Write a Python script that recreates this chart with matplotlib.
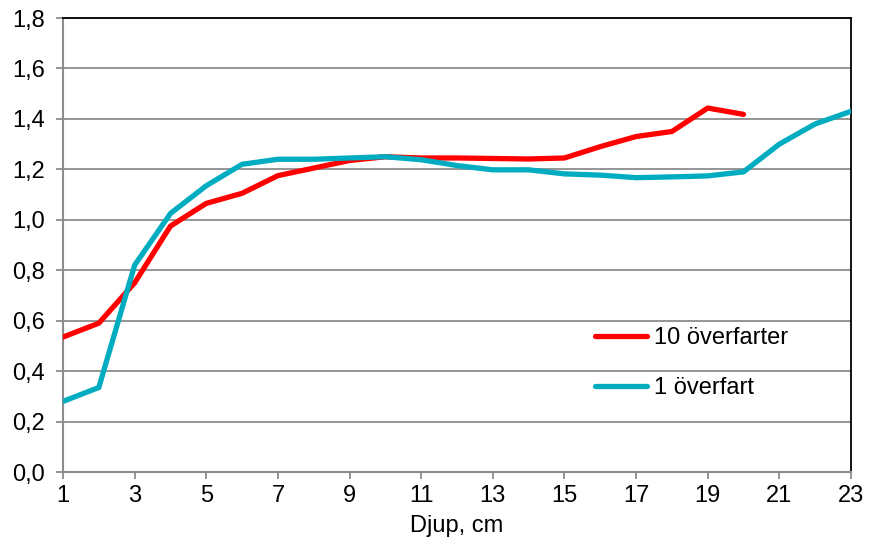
import matplotlib
matplotlib.use('Agg')
import matplotlib.pyplot as plt

# depth (cm) and values for each series
djup_10 = list(range(1, 21))
varde_10 = [0.535, 0.59, 0.75, 0.975, 1.065, 1.105, 1.175, 1.205, 1.235, 1.25,
            1.245, 1.245, 1.243, 1.241, 1.245, 1.29, 1.33, 1.35, 1.443, 1.418]

djup_1 = list(range(1, 24))
varde_1 = [0.28, 0.335, 0.82, 1.025, 1.135, 1.22, 1.24, 1.24, 1.245, 1.25,
           1.238, 1.215, 1.198, 1.198, 1.182, 1.177, 1.167, 1.17, 1.174, 1.19,
           1.30, 1.38, 1.43]

xticks = list(range(1, 24, 2))
yticks = [0.0, 0.2, 0.4, 0.6, 0.8, 1.0, 1.2, 1.4, 1.6, 1.8]

plt.rcParams['font.family'] = ['Liberation Sans', 'DejaVu Sans']
fs = 17

fig = plt.figure(figsize=(8.69, 5.5), dpi=100)
ax = fig.add_axes([63 / 869, 1 - 472 / 550, (851 - 63) / 869, (472 - 18) / 550])

ax.plot(djup_10, varde_10, color='#FF0000', lw=3.8, label='10 överfarter',
        solid_capstyle='round', zorder=3)
ax.plot(djup_1, varde_1, color='#00ACBF', lw=3.8, label='1 överfart',
        solid_capstyle='round', zorder=3)

ax.set_xlim(1, 23)
ax.set_ylim(0, 1.8)
ax.set_xticks(xticks)
ax.set_yticks(yticks)
ax.yaxis.set_major_formatter(plt.FuncFormatter(lambda v, p: ('%.1f' % v).replace('.', ',')))
ax.grid(axis='y', color='#8c8c8c', lw=1.3)
ax.set_axisbelow(True)

for s in ['left', 'bottom']:
    ax.spines[s].set_color('#8c8c8c')
    ax.spines[s].set_linewidth(1.5)
for s in ['top', 'right']:
    ax.spines[s].set_color('black')
    ax.spines[s].set_linewidth(1.3)
ax.tick_params(direction='out', length=5, width=1.3, color='#8c8c8c', labelsize=fs)
ax.tick_params(axis='y', pad=8)
ax.tick_params(axis='x', pad=4)

ax.set_xlabel('Djup, cm', fontsize=fs, labelpad=6)

ax.legend(loc='upper left', bbox_to_anchor=(0.6485, 0.366), frameon=False,
          handlelength=2.2, handletextpad=0.3, labelspacing=1.2, fontsize=fs)

fig.savefig('out.png', dpi=100)
